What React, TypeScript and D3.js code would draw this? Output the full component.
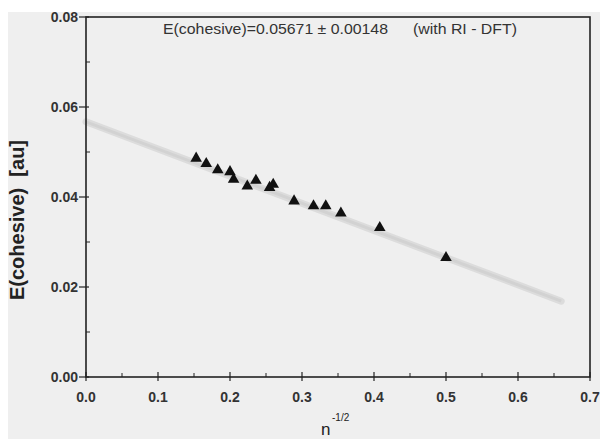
import React from "react";
import * as d3 from "d3";

const nInvSqrt = [0.153, 0.167, 0.183, 0.2, 0.205, 0.224, 0.236, 0.255, 0.26, 0.289, 0.316, 0.333, 0.354, 0.408, 0.5];
const eCohesive = [0.0486, 0.0474, 0.046, 0.0456, 0.0439, 0.0424, 0.0437, 0.0421, 0.0428, 0.0391, 0.038, 0.038, 0.0364, 0.0332, 0.0265];
const fitIntercept = 0.05671;
const fitSlope = -0.0604;
const fitRange = [0, 0.66];
const xTicks = [0, 0.1, 0.2, 0.3, 0.4, 0.5, 0.6, 0.7];
const yTicks = [0, 0.02, 0.04, 0.06, 0.08];
const xMinor = [0.05, 0.15, 0.25, 0.35, 0.45, 0.55, 0.65];
const yMinor = [0.01, 0.03, 0.05, 0.07];

const W = 600, H = 439;
const L = 86, R = 590, T = 17, B = 377;

export default function App() {
  const x = d3.scaleLinear().domain([0, 0.7]).range([L, R]);
  const y = d3.scaleLinear().domain([0, 0.08]).range([B, T]);
  const fit = d3.line<number>().x(d => x(d)).y(d => y(fitIntercept + fitSlope * d));
  const tri = d3.symbol().type(d3.symbolTriangle).size(58);
  const font = "'Liberation Sans', Arial, sans-serif";
  return (
    <svg width={W} height={H} style={{ position: "absolute", left: 0, top: 0 }}>
      <rect x={0} y={0} width={W} height={H} fill="#ffffff" />
      <rect x={8} y={12} width={W - 8} height={H - 12} fill="#efefef" />
      <path d={fit(fitRange) || ""} stroke="#dcdcdc" strokeWidth={7} fill="none" strokeLinecap="round" />
      <path d={fit(fitRange) || ""} stroke="#d2d2d2" strokeWidth={3} fill="none" />
      <rect x={L} y={T} width={R - L} height={B - T} fill="none" stroke="#222" strokeWidth={1.6} />
      {nInvSqrt.map((v, i) => (
        <path key={i} d={tri() || ""} transform={`translate(${x(v)},${y(eCohesive[i])})`} fill="#111" />
      ))}
      {xTicks.map(t => (
        <g key={"x" + t}>
          <line x1={x(t)} x2={x(t)} y1={B - 5} y2={B + 4} stroke="#222" strokeWidth={1.2} />
          <text x={x(t)} y={402} textAnchor="middle" fontFamily={font} fontWeight="bold" fontSize={14} fill="#333">{t.toFixed(1)}</text>
        </g>
      ))}
      {xMinor.map(t => (
        <line key={"xm" + t} x1={x(t)} x2={x(t)} y1={B - 4} y2={B} stroke="#222" strokeWidth={1} />
      ))}
      {yTicks.map(t => (
        <g key={"y" + t}>
          <line x1={L - 7} x2={L + 3} y1={y(t)} y2={y(t)} stroke="#222" strokeWidth={1.2} />
          <text x={78} y={y(t) + 5} textAnchor="end" fontFamily={font} fontWeight="bold" fontSize={14} fill="#333">{t.toFixed(2)}</text>
        </g>
      ))}
      {yMinor.map(t => (
        <line key={"ym" + t} x1={L} x2={L + 4} y1={y(t)} y2={y(t)} stroke="#222" strokeWidth={1} />
      ))}
      <text x={163} y={34} fontFamily={font} fontSize={14.5} fill="#333" textLength={225} lengthAdjust="spacingAndGlyphs">E(cohesive)=0.05671 ± 0.00148</text>
      <text x={413} y={34} fontFamily={font} fontSize={14.5} fill="#333" textLength={104} lengthAdjust="spacingAndGlyphs">(with RI - DFT)</text>
      <text transform="translate(24,220) rotate(-90)" textAnchor="middle" fontFamily={font} fontWeight="bold" fontSize={20} fill="#222">{"E(cohesive)\u00a0\u00a0[au]"}</text>
      <text x={321} y={435} fontFamily={font} fontSize={17} fill="#222">n</text>
      <text x={332} y={421} fontFamily={font} fontSize={10} fill="#222">-1/2</text>
    </svg>
  );
}
